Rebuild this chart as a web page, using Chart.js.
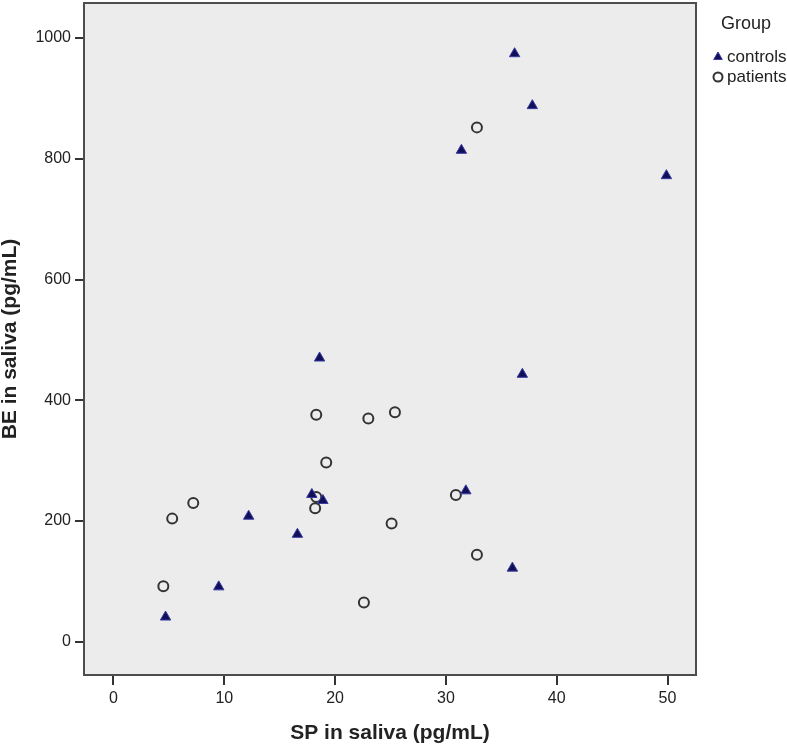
<!DOCTYPE html>
<html>
<head>
<meta charset="utf-8">
<script src="https://cdn.jsdelivr.net/npm/chart.js@4"></script>
<style>
    html, body { margin: 0; padding: 0; background: #fff; }
    #wrap { width: 787px; height: 746px; }
</style>
</head>
<body>
<div id="wrap"><canvas id="scatter" width="787" height="746"></canvas></div>
<script>
// values
let controlsSP = [36.2, 37.8, 31.4, 49.9, 18.6, 36.9, 31.8, 17.9, 18.9, 12.2, 16.6, 36.0, 9.5, 4.7];
let controlsBE = [974, 888, 814, 772, 470, 443, 250, 244, 234, 208, 178, 122, 91, 41];
let patientsSP = [32.8, 18.3, 23.0, 25.4, 19.2, 30.9, 18.3, 18.2, 7.2, 5.3, 25.1, 32.8, 4.5, 22.6];
let patientsBE = [852, 376, 370, 380, 297, 243, 240, 221, 230, 204, 196, 144, 92, 65];
let xTicks = [0, 10, 20, 30, 40, 50];
let yTicks = [0, 200, 400, 600, 800, 1000];
let groupNames = ["controls", "patients"];

const FONT = "'Liberation Sans', Arial, sans-serif";

function toPoints(xs, ys) {
    return xs.map((x, i) => ({ x: x, y: ys[i] }));
}

// grey plot panel with a dark frame
const panel = {
    id: 'panel',
    beforeDatasetsDraw(chart) {
        const { ctx, chartArea: a } = chart;
        ctx.save();
        ctx.fillStyle = '#ececec';
        ctx.fillRect(a.left, a.top, a.right - a.left, a.bottom - a.top);
        ctx.strokeStyle = '#4d4d4d';
        ctx.lineWidth = 2;
        ctx.strokeRect(a.left, a.top, a.right - a.left, a.bottom - a.top);
        ctx.restore();
    }
};

// SPSS style legend to the right of the panel
const groupLegend = {
    id: 'groupLegend',
    afterDraw(chart) {
        const ctx = chart.ctx;
        ctx.save();
        ctx.fillStyle = '#222';
        ctx.textBaseline = 'middle';
        ctx.font = '18px ' + FONT;
        ctx.fillText('Group', 721, 24);
        ctx.font = '17px ' + FONT;
        const rows = [57, 77];
        chart.data.datasets.forEach((ds, i) => {
            const y = rows[i];
            ctx.save();
            if (ds.pointStyle === 'triangle') {
                ctx.fillStyle = ds.backgroundColor;
                ctx.strokeStyle = ds.borderColor;
                ctx.lineWidth = 1;
                ctx.beginPath();
                ctx.moveTo(718, y - 5);
                ctx.lineTo(722.3, y + 2.5);
                ctx.lineTo(713.7, y + 2.5);
                ctx.closePath();
                ctx.fill();
                ctx.stroke();
            } else {
                ctx.strokeStyle = ds.borderColor;
                ctx.lineWidth = 2;
                ctx.beginPath();
                ctx.arc(718, y, 4.5, 0, Math.PI * 2);
                ctx.stroke();
            }
            ctx.restore();
            ctx.fillText(ds.label, 727, y);
        });
        ctx.restore();
    }
};

const ctx = document.getElementById('scatter').getContext('2d');
let chart = new Chart(ctx, {
    type: 'scatter',
    data: {
        datasets: [{
            label: groupNames[0],
            data: toPoints(controlsSP, controlsBE),
            pointStyle: 'triangle',
            pointRadius: 6,
            backgroundColor: '#10105a',
            borderColor: '#3a3aa0',
            borderWidth: 1
        }, {
            label: groupNames[1],
            data: toPoints(patientsSP, patientsBE),
            pointStyle: 'circle',
            pointRadius: 5,
            backgroundColor: 'rgba(0,0,0,0)',
            borderColor: '#333',
            borderWidth: 2
        }]
    },
    options: {
        responsive: false,
        animation: false,
        events: [],
        layout: { autoPadding: false, padding: { top: 3, right: 91, left: 0, bottom: 0 } },
        plugins: {
            legend: { display: false },
            tooltip: { enabled: false }
        },
        scales: {
            x: {
                type: 'linear',
                min: -2.66,
                max: 52.57,
                afterFit: s => { s.height = 71; s.paddingLeft = 0; s.paddingRight = 0; },
                afterBuildTicks: s => { s.ticks = xTicks.map(v => ({ value: v })); },
                border: { display: false },
                grid: { drawOnChartArea: false, drawTicks: true, tickLength: 10, color: '#333', lineWidth: 2 },
                ticks: { padding: 4, color: '#222', font: { family: FONT, size: 16 }, maxRotation: 0, callback: v => String(v) },
                title: {
                    display: true,
                    text: 'SP in saliva (pg/mL)',
                    color: '#222',
                    padding: { top: 0, bottom: 2 },
                    font: { family: FONT, size: 21, weight: 'bold', lineHeight: 1 }
                }
            },
            y: {
                type: 'linear',
                min: -55,
                max: 1058,
                afterFit: s => { s.width = 84; s.paddingTop = 0; s.paddingBottom = 0; },
                afterBuildTicks: s => { s.ticks = yTicks.map(v => ({ value: v })); },
                border: { display: false },
                grid: { drawOnChartArea: false, drawTicks: true, tickLength: 9, color: '#333', lineWidth: 2 },
                ticks: { padding: 4, color: '#222', font: { family: FONT, size: 16 }, callback: v => String(v) },
                title: {
                    display: true,
                    text: 'BE in saliva (pg/mL)',
                    color: '#222',
                    padding: { top: 0, bottom: 0 },
                    font: { family: FONT, size: 21, weight: 'bold', lineHeight: 1 }
                }
            }
        }
    },
    plugins: [panel, groupLegend]
});
</script>
</body>
</html>
